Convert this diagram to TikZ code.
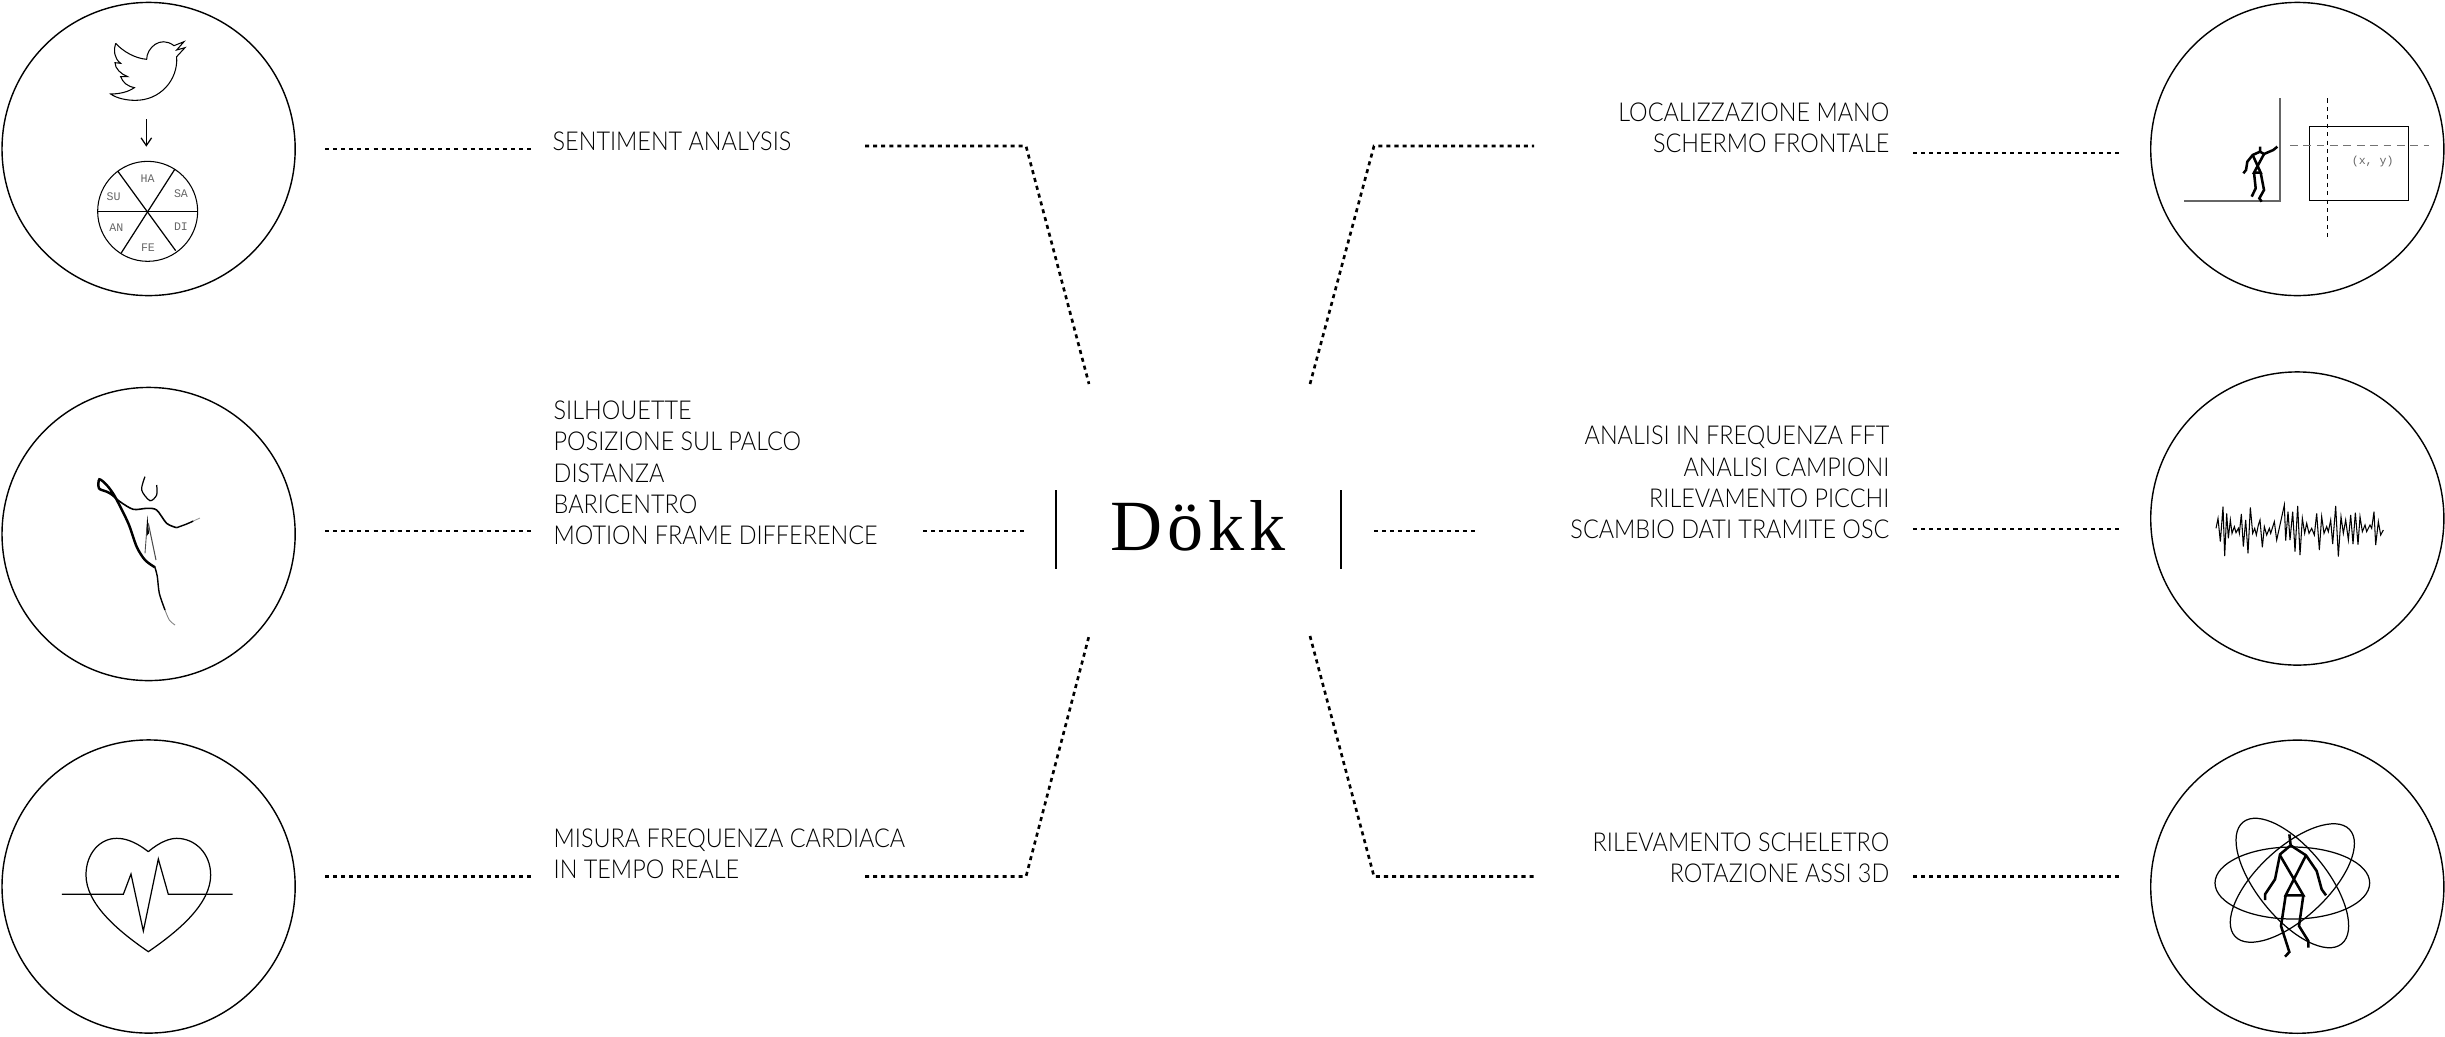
\documentclass[tikz,border=0pt]{standalone}
\usepackage{fontspec}
\usetikzlibrary{arrows.meta}
\newfontfamily\labelfont[FakeStretch=0.9]{Lato Light}
\newfontfamily\titlefont[LetterSpace=7]{Liberation Serif}
\newfontfamily\iconfont{Liberation Mono}
\tikzset{
	iconcircle/.style={circle, draw, line width=0.4pt, minimum size=2.93cm, inner sep=0pt},
	dotline/.style={line width=0.75pt, dash pattern=on 1.15pt off 1.15pt},
	leftlabel/.style={anchor=west, align=left, inner sep=0pt, font=\labelfont\fontsize{7.4}{8.88}\selectfont},
	rightlabel/.style={anchor=east, align=right, inner sep=0pt, font=\labelfont\fontsize{7.4}{8.88}\selectfont},
	iconline/.style={line width=0.35pt},
	stickline/.style={line width=0.72pt},
	icontext/.style={inner sep=0pt, text=black!60, font=\iconfont\fontsize{3.3}{3.3}\selectfont}
}

\begin{document}
\begin{tikzpicture}[x=0.01cm, y=-0.01cm]
			%%%%% START %%%%%
			\useasboundingbox (0, 0) rectangle (2445, 1036);
			
			\node[iconcircle] (twitter) at (148.6, 149) {};
			\node[iconcircle] (dancer) at (148.6, 534) {};
			\node[iconcircle] (heart) at (148.6, 886.5) {};
			\node[iconcircle] (screen) at (2297.3, 149) {};
			\node[iconcircle] (wave) at (2297.3, 518.5) {};
			\node[iconcircle] (skeleton) at (2297.3, 886.7) {};
			
			\node[font=\titlefont\fontsize{20.5}{24}\selectfont] (dokk) at (1198, 526) {Dökk};
			\draw[iconline] (1056, 490) -- (1056, 569);
			\draw[iconline] (1341, 490) -- (1341, 569);
			
			\node[leftlabel] (sentiment) at (552, 141) {SENTIMENT ANALYSIS};
			\node[leftlabel] (silhouette) at (553, 473) {SILHOUETTE\\POSIZIONE SUL PALCO\\DISTANZA\\BARICENTRO\\MOTION FRAME DIFFERENCE};
			\node[leftlabel] (cardiaca) at (553, 854) {MISURA FREQUENZA CARDIACA\\IN TEMPO REALE};
			\node[rightlabel] (mano) at (1890, 128) {LOCALIZZAZIONE MANO\\SCHERMO FRONTALE};
			\node[rightlabel] (fft) at (1890, 482.5) {ANALISI IN FREQUENZA FFT\\ANALISI CAMPIONI\\RILEVAMENTO PICCHI\\SCAMBIO DATI TRAMITE OSC};
			\node[rightlabel] (assi) at (1890, 858) {RILEVAMENTO SCHELETRO\\ROTAZIONE ASSI 3D};
			
			\coordinate (a1) at (325, 149);
			\coordinate (a2) at (532, 149);
			\coordinate (a3) at (865, 146);
			\coordinate (a4) at (1026, 146);
			\coordinate (a5) at (1089, 384);
			\coordinate (b1) at (325, 531);
			\coordinate (b2) at (532, 531);
			\coordinate (b3) at (923, 531);
			\coordinate (b4) at (1027, 531);
			\coordinate (c1) at (325, 876.5);
			\coordinate (c2) at (532, 876.5);
			\coordinate (c3) at (865, 876.5);
			\coordinate (c4) at (1026, 876.5);
			\coordinate (c5) at (1089, 636);
			\coordinate (d1) at (1310, 384);
			\coordinate (d2) at (1374, 146);
			\coordinate (d3) at (1534, 146);
			\coordinate (d4) at (1913, 153);
			\coordinate (d5) at (2119, 153);
			\coordinate (e1) at (1374, 531);
			\coordinate (e2) at (1477, 531);
			\coordinate (e3) at (1913, 529);
			\coordinate (e4) at (2119, 529);
			\coordinate (f1) at (1310, 636);
			\coordinate (f2) at (1374, 876.5);
			\coordinate (f3) at (1534, 876.5);
			\coordinate (f4) at (1913, 876.5);
			\coordinate (f5) at (2119, 876.5);
			
			\draw[dotline] (a1) -- (a2);
			\draw[dotline] (a3) -- (a4) -- (a5);
			\draw[dotline] (b1) -- (b2);
			\draw[dotline] (b3) -- (b4);
			\draw[dotline] (c1) -- (c2);
			\draw[dotline] (c3) -- (c4) -- (c5);
			\draw[dotline] (d1) -- (d2) -- (d3);
			\draw[dotline] (d4) -- (d5);
			\draw[dotline] (e1) -- (e2);
			\draw[dotline] (e3) -- (e4);
			\draw[dotline] (f1) -- (f2) -- (f3);
			\draw[dotline] (f4) -- (f5);
			
			% bird and emotions
			\begin{scope}[scale=1/3]
				\draw[line width=0.3pt] (347, 130) .. controls (370, 155) and (405, 175) .. (440, 178)
					.. controls (440, 145) and (480, 105) .. (522, 137) -- (552, 125) -- (530, 150) -- (555, 143) -- (530, 170)
					.. controls (535, 240) and (480, 302) .. (405, 301)
					.. controls (380, 301) and (350, 295) .. (332, 282)
					.. controls (358, 282) and (385, 276) .. (403, 263)
					.. controls (385, 260) and (368, 248) .. (362, 230) -- (383, 230)
					.. controls (362, 222) and (345, 205) .. (345, 188) -- (362, 190)
					.. controls (342, 175) and (340, 150) .. (347, 130);
				\draw[iconline, -{Straight Barb[length=2.2pt, width=3pt]}] (439, 358) -- (439, 440);
				\draw[line width=0.3pt] (443, 634) circle (150);
				\draw[iconline] (293, 634) -- (594, 634);
				\draw[iconline] (353, 513) -- (527, 752);
				\draw[iconline] (525, 507) -- (363, 760);
				\node[icontext] (ha) at (443, 536) {HA};
				\node[icontext] (sa) at (543, 580) {SA};
				\node[icontext] (su) at (341, 590) {SU};
				\node[icontext] (an) at (349, 682) {AN};
				\node[icontext] (di) at (543, 681) {DI};
				\node[icontext] (fe) at (444, 743) {FE};
			\end{scope}
			
			% dancer
			\begin{scope}[shift={(0, 380)}, scale=1/3]
				\draw[line width=0.45pt] plot[smooth] coordinates {(530, 443) (500, 430) (470, 390) (440, 385) (400, 388) (360, 365) (330, 340)};
				\draw[line width=0.7pt] plot[smooth] coordinates {(345, 348) (320, 335) (297, 325) (298, 298) (320, 315) (345, 350) (385, 430) (410, 500) (435, 540) (465, 562)};
				\draw[line width=0.4pt] plot[smooth] coordinates {(530, 443) (560, 432) (580, 423)};
				\draw[line width=0.25pt, black!40] (580, 423) -- (600, 414);
				\draw[line width=0.4pt] plot[smooth] coordinates {(465, 562) (472, 590) (478, 640) (495, 690)};
				\draw[line width=0.25pt, black!50] plot[smooth] coordinates {(495, 690) (508, 720) (525, 735)};
				\draw[line width=0.35pt] plot[smooth] coordinates {(435, 290) (425, 330) (450, 362) (470, 345) (470, 315)};
				\fill (442, 405) -- (447, 460) -- (438, 470) -- cycle;
				\draw[line width=0.25pt, black!70] (441, 440) -- (435, 520);
				\draw[line width=0.3pt, black!70] (445, 430) -- (468, 540);
			\end{scope}
			
			% heart
			\begin{scope}[shift={(0, 730)}, scale=1/3]
				\draw[iconline] (445, 365) .. controls (400, 330) and (370, 325) .. (350, 325)
					.. controls (300, 325) and (258, 370) .. (258, 435)
					.. controls (258, 520) and (350, 600) .. (445, 665)
					.. controls (540, 600) and (632, 520) .. (632, 435)
					.. controls (632, 370) and (585, 325) .. (530, 325)
					.. controls (510, 325) and (480, 335) .. (445, 365);
				\draw[iconline] (186, 493) -- (370, 493) -- (393, 432) -- (430, 603) -- (475, 387) -- (505, 493) -- (698, 493);
			\end{scope}
			
			% stage and screen
			\begin{scope}[shift={(2140, 0)}, scale=1/3]
				\draw[line width=0.5pt, black!60] (132, 603) -- (420, 603) -- (420, 295);
				\draw[stickline] (360, 440) -- (360, 455) -- (338, 465) -- (322, 485) -- (318, 510) -- (310, 520);
				\draw[stickline] (360, 455) -- (372, 462) -- (400, 450) -- (412, 440);
				\draw[stickline] (338, 465) -- (362, 518) -- (342, 518) -- (372, 462);
				\draw[stickline] (342, 518) -- (347, 565) -- (335, 590);
				\draw[stickline] (362, 518) -- (372, 570) -- (358, 595) -- (365, 605);
				\draw[iconline] (508, 379) rectangle (805, 601);
				\draw[line width=0.4pt, black!55, dash pattern=on 2.2pt off 1.6pt] (450, 437) -- (868, 437);
				\draw[line width=0.3pt, dash pattern=on 1.2pt off 1.2pt] (562, 295) -- (562, 710);
				\node[icontext] (xy) at (698, 485) {(x, y)};
			\end{scope}
			
			% signal
			\begin{scope}[shift={(2140, 370)}, scale=1/3]
				\draw[line width=0.3pt] (228, 475) -- (234, 445) -- (241, 515) -- (249, 410) -- (254, 558) -- (260, 430) -- (265, 505) -- (271, 450) -- (276, 490) -- (283, 470) -- (288, 488) -- (295, 475) -- (298, 490) -- (304, 432) -- (310, 530) -- (317, 450) -- (324, 550) -- (331, 412) -- (338, 490) -- (344, 475) -- (349, 495) -- (355, 465) -- (360, 450) -- (367, 532) -- (373, 470) -- (380, 495) -- (388, 475) -- (392, 490) -- (403, 455) -- (410, 510) -- (433, 405) -- (437, 512) -- (444, 425) -- (450, 510) -- (458, 425) -- (465, 545) -- (473, 408) -- (480, 555) -- (487, 445) -- (494, 490) -- (500, 460) -- (507, 490) -- (515, 475) -- (523, 495) -- (530, 430) -- (538, 540) -- (545, 440) -- (552, 490) -- (560, 470) -- (565, 485) -- (572, 450) -- (578, 522) -- (587, 408) -- (595, 560) -- (603, 440) -- (610, 490) -- (617, 450) -- (625, 510) -- (632, 435) -- (639, 522) -- (646, 428) -- (654, 524) -- (660, 440) -- (667, 485) -- (675, 465) -- (680, 485) -- (690, 465) -- (695, 475) -- (702, 425) -- (707, 525) -- (715, 455) -- (722, 495) -- (730, 480);
			\end{scope}
			
			% skeleton and axes
			\begin{scope}[shift={(2140, 736)}, scale=1/3]
				\draw[iconline] (457, 441) ellipse (232 and 108);
				\draw[iconline, shift={(457, 441)}, rotate=-51] (0, 0) ellipse (235 and 105);
				\draw[iconline, shift={(457, 441)}, rotate=43] (0, 0) ellipse (235 and 105);
				\draw[stickline] (448, 295) -- (452, 328);
				\draw[stickline] (375, 492) -- (375, 475) -- (405, 430) -- (420, 355) -- (452, 328) -- (498, 358) -- (530, 405) -- (545, 460) -- (558, 478);
				\draw[stickline] (420, 358) -- (490, 478) -- (437, 478) -- (498, 358);
				\draw[stickline] (437, 478) -- (423, 570) -- (448, 648) -- (435, 662);
				\draw[stickline] (490, 478) -- (477, 570) -- (505, 615) -- (505, 635);
			\end{scope}
			
			%%%%% END %%%%%
\end{tikzpicture}
\end{document}
